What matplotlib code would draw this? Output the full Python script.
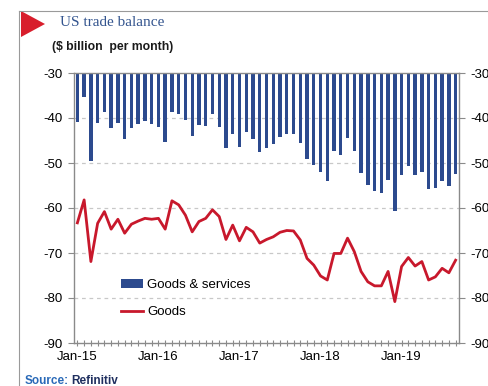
import numpy as np
import matplotlib
matplotlib.use("Agg")
import matplotlib.pyplot as plt
from matplotlib.patches import Patch, Polygon
from matplotlib.lines import Line2D
from matplotlib.ticker import MultipleLocator, FixedLocator

# monthly values, Jan-15 .. Sep-19 ($ billion)
goods_services = [
    -40.8, -35.4, -49.5, -41.2, -38.7, -42.3, -41.0, -44.7, -42.3, -41.3, -40.7, -41.3,
    -42.1, -45.3, -38.6, -39.1, -40.4, -43.9, -41.6, -41.8, -39.0, -42.1, -46.6, -43.6,
    -46.5, -43.2, -44.7, -47.5, -46.7, -45.7, -44.2, -43.6, -43.6, -45.5, -49.2, -50.4,
    -52.1, -53.9, -47.3, -48.2, -44.5, -47.3, -52.3, -54.9, -56.2, -56.7, -53.8, -60.7,
    -52.7, -50.6, -52.7, -52.1, -55.8, -55.5, -54.1, -55.0, -52.5,
]
goods = [
    -63.3, -58.2, -71.9, -63.4, -60.8, -64.7, -62.5, -65.6, -63.6, -62.9, -62.3, -62.5,
    -62.3, -64.7, -58.4, -59.3, -61.6, -65.3, -63.0, -62.3, -60.4, -61.9, -67.0, -63.8,
    -67.3, -64.3, -65.3, -67.8, -67.0, -66.4, -65.4, -65.0, -65.1, -67.1, -71.2, -72.7,
    -75.1, -76.0, -70.1, -70.1, -66.7, -69.7, -74.1, -76.4, -77.3, -77.3, -74.1, -80.8,
    -73.0, -71.0, -72.9, -71.9, -76.0, -75.3, -73.4, -74.4, -71.6,
]
year_labels = ["Jan-15", "Jan-16", "Jan-17", "Jan-18", "Jan-19"]
y_ticks = [-30, -40, -50, -60, -70, -80, -90]

plt.rcParams['font.family'] = ['Liberation Sans', 'DejaVu Sans']

bar_color = '#2c4a8e'
line_color = '#c8182c'
spine_color = '#8a8a8a'

fig = plt.figure(figsize=(4.88, 3.86), dpi=100)
ax = fig.add_axes([74 / 488, 1 - 343 / 386, 385 / 488, 270 / 386])

x = np.arange(len(goods_services))
base = -30
ax.bar(x, np.array(goods_services) - base, bottom=base, width=0.5,
       color=bar_color, linewidth=0, zorder=2)
ax.plot(x, goods, color=line_color, linewidth=2, zorder=3)

ax.set_ylim(-90, -30)
ax.set_xlim(-0.5, 56.5)
ax.set_yticks(y_ticks)
ax.set_yticklabels([str(v) for v in y_ticks])
for v in [-40, -50, -60, -70, -80]:
    ax.axhline(v, color='#c8c8c8', linewidth=0.9, linestyle=(0, (3, 3)), zorder=1)

ax.xaxis.set_major_locator(FixedLocator([0, 12, 24, 36, 48]))
ax.set_xticklabels(year_labels)
ax.xaxis.set_minor_locator(MultipleLocator(1))
ax.tick_params(axis='x', which='both', direction='inout', length=5, width=0.8,
               color=spine_color, labelsize=9.5, pad=3)
ax.tick_params(axis='y', which='both', direction='out', length=4, width=0.8,
               color=spine_color, labelsize=9.5, right=True, labelright=True, pad=4)

for side in ['left', 'right', 'bottom', 'top']:
    ax.spines[side].set_color(spine_color)
    ax.spines[side].set_linewidth(1.0)

handles = [Patch(facecolor=bar_color, edgecolor='none'),
           Line2D([0], [0], color=line_color, linewidth=2)]
ax.legend(handles, ["Goods & services", "Goods"], loc='upper left',
          bbox_to_anchor=(0.122, 0.238), frameon=False, fontsize=9.5,
          handlelength=1.7, handletextpad=0.3, labelspacing=1.15,
          borderpad=0, borderaxespad=0)

# frame, marker and titles
fig.add_artist(Line2D([19 / 488, 1], [1 - 11 / 386, 1 - 11 / 386],
                      color='#9a9a9a', linewidth=0.8))
fig.add_artist(Line2D([19 / 488, 19 / 488], [0, 1 - 11 / 386],
                      color='#9a9a9a', linewidth=0.8))
fig.add_artist(Polygon([[21 / 488, 1 - 11 / 386], [21 / 488, 1 - 37 / 386],
                        [45 / 488, 1 - 24 / 386]], closed=True,
                       facecolor='#d81e2c', edgecolor='none'))
fig.text(60 / 488, 1 - 23 / 386, "US trade balance", family='Liberation Serif',
         fontsize=11, color='#34558f', va='center', ha='left')
fig.text(52 / 488, 1 - 47 / 386, "($ billion  per month)", fontsize=8.8,
         fontweight='bold', color='#1a1a1a', va='center', ha='left')

src = fig.text(25 / 488, 1 - 381 / 386, "Source:", fontsize=8.5, color='#2a6ab8',
               va='center', ha='left', fontweight='bold')
renderer = fig.canvas.get_renderer()
src_box = src.get_window_extent(renderer)
fig.text((src_box.x1 + 2) / 488, 1 - 381 / 386, "Refinitiv", fontsize=8.5,
         color='#1f2f5f', va='center', ha='left', fontweight='bold')

fig.savefig('out.png', dpi=100)
